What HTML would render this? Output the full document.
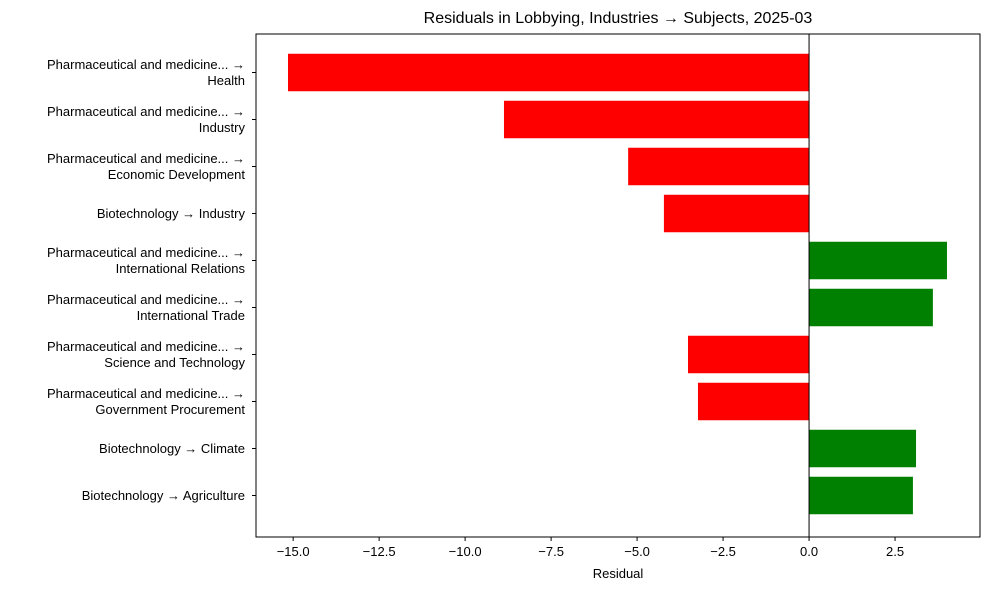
<!DOCTYPE html>
<html><head><meta charset="utf-8"><style>
html,body{margin:0;padding:0;background:#fff;}
svg{display:block;font-family:"Liberation Sans","DejaVu Sans",sans-serif;}
</style></head><body>
<svg id="chart" width="989" height="590" viewBox="0 0 989 590" xmlns="http://www.w3.org/2000/svg">
<rect width="989" height="590" fill="#fff"/>
<text x="618" y="23" text-anchor="middle" font-size="16" fill="#000">Residuals in Lobbying, Industries → Subjects, 2025-03</text>
<g id="bars"></g>
<g id="yaxis"></g>
<g id="xaxis"></g>
<line id="zero" y1="34" y2="537" stroke="#000" stroke-width="1"/>
<rect x="256" y="34" width="724" height="503" fill="none" stroke="#000" stroke-width="1"/>
<text x="618" y="578" text-anchor="middle" font-size="13" fill="#000">Residual</text>
</svg>
<script>
const categories = [
 ["Pharmaceutical and medicine... →","Health"],
 ["Pharmaceutical and medicine... →","Industry"],
 ["Pharmaceutical and medicine... →","Economic Development"],
 ["Biotechnology → Industry"],
 ["Pharmaceutical and medicine... →","International Relations"],
 ["Pharmaceutical and medicine... →","International Trade"],
 ["Pharmaceutical and medicine... →","Science and Technology"],
 ["Pharmaceutical and medicine... →","Government Procurement"],
 ["Biotechnology → Climate"],
 ["Biotechnology → Agriculture"]
];
const residuals = [-15.15,-8.87,-5.26,-4.22,4.01,3.6,-3.52,-3.23,3.11,3.02];
const xTicks = [-15,-12.5,-10,-7.5,-5,-2.5,0,2.5];
const xTickLabels = ["−15.0","−12.5","−10.0","−7.5","−5.0","−2.5","0.0","2.5"];

const NS="http://www.w3.org/2000/svg";
const L=256,R=980,T=34,B=537;
const xMin=-16.08,xMax=4.97;
function xs(v){return L+(v-xMin)/(xMax-xMin)*(R-L);}
const step=47, firstC=72.5, bh=37.5;
function yc(i){return firstC+i*step;}
function mk(tag,attrs,parent){const e=document.createElementNS(NS,tag);for(const k in attrs)e.setAttribute(k,attrs[k]);parent.appendChild(e);return e;}
const bars=document.getElementById('bars'),ya=document.getElementById('yaxis'),xa=document.getElementById('xaxis');
document.getElementById('zero').setAttribute('x1',xs(0));
document.getElementById('zero').setAttribute('x2',xs(0));
residuals.forEach((v,i)=>{
 const x0=Math.min(xs(0),xs(v)),w=Math.abs(xs(v)-xs(0));
 const r=mk('rect',{x:x0,y:yc(i)-bh/2,width:w,height:bh,fill:v<0?'#ff0000':'#008000'},bars);
 
 
 const t=mk('line',{x1:L-4,x2:L,y1:yc(i),y2:yc(i),stroke:'#000'},ya);
 
 
 const lines=categories[i];
 lines.forEach((s,j)=>{
  const dy=(j-(lines.length-1)/2)*16+4.5;
  const tx=mk('text',{x:L-11,y:yc(i)+dy,'text-anchor':'end','font-size':'13',fill:'#000'},ya);
  tx.textContent=s;
  
  
 });
});
xTicks.forEach((v,i)=>{
 const t=mk('line',{x1:xs(v),x2:xs(v),y1:B,y2:B+4,stroke:'#000'},xa);
 
 
 const tx=mk('text',{x:xs(v),y:B+19,'text-anchor':'middle','font-size':'13',fill:'#000'},xa);
 tx.textContent=xTickLabels[i];
 
 
});
</script>
</body></html>
